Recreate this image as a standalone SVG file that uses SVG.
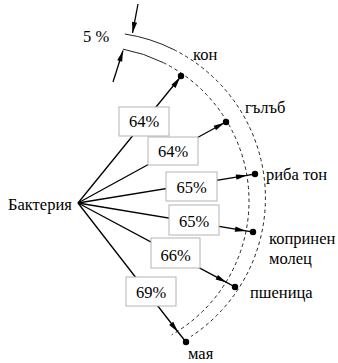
<svg xmlns="http://www.w3.org/2000/svg" width="338" height="363" viewBox="0 0 338 363">
<style>
text{font-family:"Liberation Serif","Times New Roman","DejaVu Serif",serif;font-size:16.5px;fill:#000}
.box rect{fill:#fff;stroke:#b4b4b4;stroke-width:1}
.box text{text-anchor:middle}
.conn{fill:none;stroke:#000;stroke-width:1.3}
.arc{fill:none;stroke:#222;stroke-width:1}
.dash{stroke-dasharray:3.5 3}
</style>
<defs>
<marker id="arr" markerUnits="userSpaceOnUse" markerWidth="14" markerHeight="8" viewBox="-12 -4 14 8" refX="0" refY="0" orient="auto">
<path d="M0,0 L-11,-2.6 L-11,2.6 Z" fill="#000"/>
</marker>
<marker id="dot" markerUnits="userSpaceOnUse" markerWidth="8" markerHeight="8" viewBox="-4 -4 8 8" refX="0" refY="0">
<circle r="3.2" fill="#000"/>
</marker>
</defs>
<g id="arcs">
<path class="arc" d="M122.9,49.1 A154.5,154.5 0 0 1 163.2,62.6"/>
<path class="arc dash" d="M163.2,62.6 A154.5,154.5 0 0 1 171.75,334.8"/>
<path class="arc" d="M124.9,34 A166,166 0 0 1 173.8,49.6"/>
<path class="arc dash" d="M173.8,49.6 A166,166 0 0 1 191.1,336.4"/>
</g>
<g id="connectors">
<path class="conn" d="M78,203 L180,77.5 L181,76" marker-mid="url(#arr)" marker-end="url(#dot)"/>
<path class="conn" d="M78,203 L224.5,122.8 L226,122" marker-mid="url(#arr)" marker-end="url(#dot)"/>
<path class="conn" d="M78,203 L247,175.3 L255,174" marker-mid="url(#arr)" marker-end="url(#dot)"/>
<path class="conn" d="M78,203 L246,230.9 L253,232" marker-mid="url(#arr)" marker-end="url(#dot)"/>
<path class="conn" d="M78,203 L226.5,282.4 L235,287" marker-mid="url(#arr)" marker-end="url(#dot)"/>
<path class="conn" d="M78,203 L178,332 L186,342" marker-mid="url(#arr)" marker-end="url(#dot)"/>
<path class="conn" d="M138,4 L132.5,33" marker-end="url(#arr)"/>
<path class="conn" d="M113,82 L123,50.5" marker-end="url(#arr)"/>
</g>
<g id="b1" class="box"><rect x="119" y="107" width="50" height="29"/><text x="144" y="127">64%</text></g>
<g id="b2" class="box"><rect x="148" y="137" width="50" height="28"/><text x="173" y="157">64%</text></g>
<g id="b3" class="box"><rect x="166" y="172" width="51" height="29"/><text x="191.5" y="193">65%</text></g>
<g id="b4" class="box"><rect x="169" y="205" width="50" height="30"/><text x="194" y="227">65%</text></g>
<g id="b5" class="box"><rect x="151" y="238" width="49" height="30"/><text x="175.5" y="261">66%</text></g>
<g id="b6" class="box"><rect x="126" y="277" width="50" height="29"/><text x="151" y="298">69%</text></g>
<g id="hub"><text x="8" y="210">Бактерия</text></g>
<g id="n-kon"><text x="193" y="60">кон</text></g>
<g id="n-galab"><text x="245" y="113">гълъб</text></g>
<g id="n-riba"><text x="266" y="180">риба тон</text></g>
<g id="n-molec"><text x="269" y="244">копринен</text><text x="269" y="264">молец</text></g>
<g id="n-pshenica"><text x="250" y="298">пшеница</text></g>
<g id="n-maya"><text x="188" y="359">мая</text></g>
<g id="gap"><text x="83" y="42">5 %</text></g>
</svg>
